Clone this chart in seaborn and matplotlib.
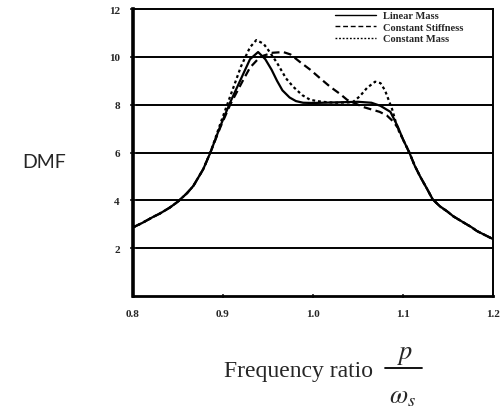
import numpy as np
import pandas as pd
import matplotlib
matplotlib.use("Agg")
import matplotlib.pyplot as plt
from matplotlib.lines import Line2D
import seaborn as sns

# ---- data ----
lm_x = [0.80, 0.81, 0.822, 0.83, 0.841, 0.85, 0.86, 0.867, 0.878, 0.886, 0.897, 0.908,
        0.919, 0.930, 0.939, 0.947, 0.954, 0.960, 0.966, 0.974, 0.981, 0.989, 1.00, 1.03,
        1.05, 1.065, 1.075, 1.086, 1.094, 1.10, 1.107, 1.113, 1.119, 1.127, 1.133, 1.141,
        1.149, 1.156, 1.167, 1.176, 1.182, 1.191, 1.20]
lm_y = [2.87, 3.05, 3.3, 3.45, 3.7, 3.95, 4.3, 4.6, 5.3, 6.0, 7.1, 8.1,
        9.0, 9.9, 10.2, 9.9, 9.46, 9.0, 8.6, 8.3, 8.15, 8.08, 8.07, 8.1,
        8.12, 8.08, 7.95, 7.7, 7.1, 6.55, 6.0, 5.45, 5.0, 4.46, 4.04, 3.75,
        3.54, 3.33, 3.08, 2.88, 2.72, 2.55, 2.38]

cs_x = [0.80, 0.81, 0.822, 0.83, 0.841, 0.85, 0.86, 0.867, 0.878, 0.886, 0.897, 0.908,
        0.922, 0.93, 0.94, 0.945, 0.955, 0.967, 0.975, 0.985, 0.997, 1.008, 1.019, 1.03,
        1.038, 1.047, 1.056, 1.065, 1.074, 1.082, 1.089, 1.094, 1.10, 1.107, 1.113, 1.119,
        1.127, 1.133, 1.141, 1.149, 1.156, 1.167, 1.176, 1.182, 1.191, 1.20]
cs_y = [2.87, 3.05, 3.3, 3.45, 3.7, 3.95, 4.3, 4.6, 5.3, 6.0, 7.05, 8.0,
        9.0, 9.55, 9.95, 10.05, 10.17, 10.2, 10.1, 9.8, 9.46, 9.1, 8.75, 8.45,
        8.2, 8.05, 7.9, 7.8, 7.7, 7.55, 7.3, 7.05, 6.55, 6.0, 5.45, 5.0,
        4.46, 4.04, 3.75, 3.54, 3.33, 3.08, 2.88, 2.72, 2.55, 2.38]

cm_x = [0.80, 0.81, 0.822, 0.83, 0.841, 0.85, 0.86, 0.867, 0.878, 0.886, 0.897, 0.908,
        0.92, 0.93, 0.937, 0.945, 0.95, 0.96, 0.97, 0.978, 0.988, 0.997, 1.01, 1.025,
        1.044, 1.052, 1.06, 1.069, 1.075, 1.08, 1.088, 1.094, 1.10, 1.107, 1.113, 1.119,
        1.127, 1.133, 1.141, 1.149, 1.156, 1.167, 1.176, 1.182, 1.191, 1.20]
cm_y = [2.87, 3.05, 3.3, 3.45, 3.7, 3.95, 4.3, 4.6, 5.3, 6.0, 7.2, 8.35,
        9.6, 10.4, 10.7, 10.55, 10.3, 9.75, 9.1, 8.75, 8.4, 8.2, 8.12, 8.08,
        8.1, 8.35, 8.7, 8.96, 8.9, 8.6, 7.8, 7.0, 6.55, 6.0, 5.45, 5.0,
        4.46, 4.04, 3.75, 3.54, 3.33, 3.08, 2.88, 2.72, 2.55, 2.38]

series_names = ["Linear Mass", "Constant Stiffness", "Constant Mass"]
x_ticks = [0.8, 0.9, 1.0, 1.1, 1.2]
x_tick_labels = ["0.8", "0.9", "1.0", "1.1", "1.2"]
y_ticks = [2, 4, 6, 8, 10, 12]
y_tick_labels = ["2", "4", "6", "8", "10", "12"]

df = pd.concat([
    pd.DataFrame({"x": lm_x, "y": lm_y, "s": series_names[0]}),
    pd.DataFrame({"x": cs_x, "y": cs_y, "s": series_names[1]}),
    pd.DataFrame({"x": cm_x, "y": cm_y, "s": series_names[2]}),
], ignore_index=True)

sns.set_style("white")
plt.rcParams["mathtext.fontset"] = "stix"

W, H = 500, 414
fig = plt.figure(figsize=(W / 100, H / 100), dpi=100)
ax = fig.add_axes([133 / W, 1 - 297 / H, 360 / W, 287 / H])

dashes = {series_names[0]: "", series_names[1]: (3.5, 2.0), series_names[2]: (1.3, 1.3)}
sns.lineplot(data=df, x="x", y="y", style="s", style_order=series_names,
             dashes=dashes, color="black", linewidth=1.6, sort=False,
             estimator=None, ax=ax)
for ln in ax.get_lines():
    ln.set_solid_joinstyle("round")
    ln.set_dash_joinstyle("round")

ax.set_xlim(0.8, 1.2)
ax.set_ylim(0, 12)
for v in y_ticks[:-1]:
    ax.axhline(v, color="black", linewidth=1.4, zorder=0)

ax.set_xticks(x_ticks)
ax.set_xticklabels(x_tick_labels)
ax.set_yticks(y_ticks)
ax.set_yticklabels(y_tick_labels)
for lab in ax.get_xticklabels() + ax.get_yticklabels():
    lab.set_fontfamily("Liberation Serif")
    lab.set_fontweight("bold")
    lab.set_fontsize(8)
ax.tick_params(axis="y", direction="inout", length=5, width=1.2, pad=7, left=True)
ax.tick_params(axis="x", direction="inout", length=3, width=1.2, pad=8, bottom=True)
ax.set_xlabel("")
ax.set_ylabel("")

for side, lw in [("left", 2.6), ("bottom", 2.0), ("top", 1.4), ("right", 1.4)]:
    ax.spines[side].set_visible(True)
    ax.spines[side].set_color("black")
    ax.spines[side].set_linewidth(lw)

leg = ax.legend(loc="upper right", bbox_to_anchor=((463 - 133) / 360, (297 - 12) / 287),
                frameon=False, borderpad=0, borderaxespad=0,
                handlelength=3.9, handletextpad=0.65, labelspacing=0.22,
                prop={"family": "Liberation Serif", "weight": "bold", "size": 7.5})
for line in leg.get_lines():
    line.set_linewidth(1.0)

fig.text(22 / W, 1 - 163 / H, "DMF", family="Lato", fontsize=14,
         ha="left", va="center")
fig.text(373 / W, 1 - 372 / H, "Frequency ratio", family="Liberation Serif",
         fontsize=17, ha="right", va="center")
fig.text(405 / W, 1 - 359 / H, r"$p$", fontsize=19, ha="center", va="baseline")
fig.add_artist(Line2D([385 / W, 422 / W], [1 - 369 / H, 1 - 369 / H],
                      color="black", linewidth=1.3, transform=fig.transFigure))
fig.text(402 / W, 1 - 403 / H, r"$\omega_s$", fontsize=19, ha="center", va="baseline")

fig.savefig("out.png", dpi=100)
